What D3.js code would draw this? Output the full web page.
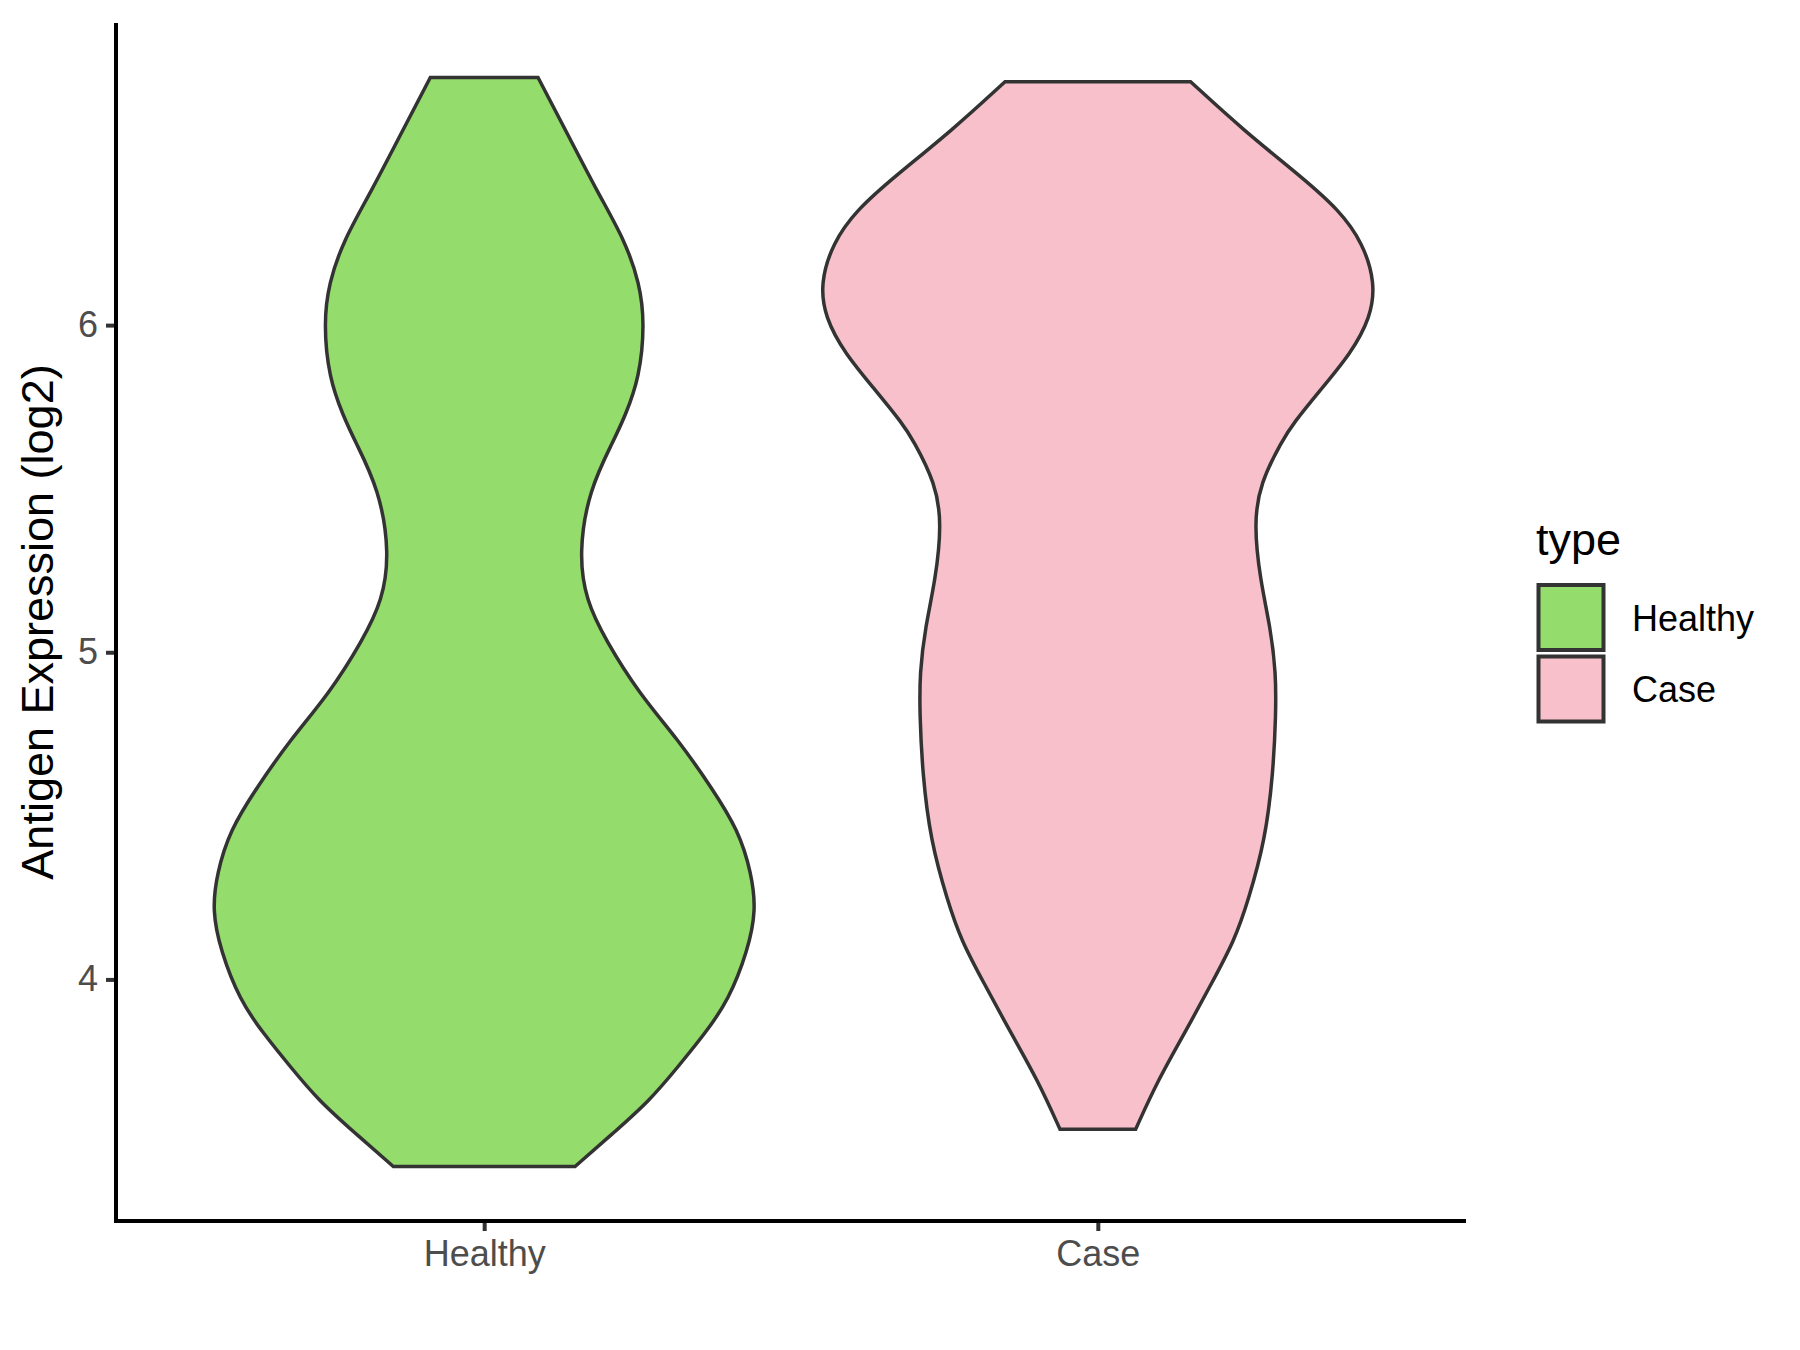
<!DOCTYPE html>
<html>
<head>
<meta charset="utf-8">
<script src="https://cdn.jsdelivr.net/npm/d3@7"></script>
<style>
  html, body { margin: 0; padding: 0; background: #ffffff; }
  svg { display: block; font-family: "Liberation Sans", Arial, Helvetica, sans-serif; }
</style>
</head>
<body>
<svg id="chart" width="1800" height="1350"></svg>
<script>
// ---- data ----
const categories = ["Healthy", "Case"];
const fillColors = ["#94DC6B", "#F7C0CB"];
const yTicks = [4, 5, 6];

// Healthy violin outline: expression values (log2) and relative density (half width, 1 = widest)
const healthyValues = [6.757, 6.587, 6.404, 6.260, 6.128, 6.006, 5.841, 5.719, 5.648, 5.495, 5.303, 5.159, 5.037,
                       4.875, 4.731, 4.587, 4.456, 4.324, 4.211, 4.089, 3.936, 3.835, 3.731, 3.630, 3.529, 3.428];
const healthyDensity = [0.195, 0.300, 0.412, 0.509, 0.563, 0.581, 0.563, 0.509, 0.469, 0.379, 0.343, 0.368, 0.440,
                        0.560, 0.704, 0.823, 0.921, 0.968, 0.985, 0.955, 0.885, 0.800, 0.700, 0.600, 0.466, 0.329];

// Case violin outline
const caseValues = [6.744, 6.596, 6.454, 6.352, 6.251, 6.128, 6.024, 5.914, 5.801, 5.700, 5.648, 5.517, 5.394,
                    5.220, 5.077, 4.936, 4.813, 4.630, 4.425, 4.242, 4.119, 3.988, 3.835, 3.691, 3.542];
const caseDensity = [0.336, 0.527, 0.736, 0.874, 0.960, 1.005, 0.988, 0.917, 0.805, 0.708, 0.668, 0.588, 0.565,
                     0.588, 0.625, 0.645, 0.645, 0.635, 0.606, 0.545, 0.495, 0.412, 0.314, 0.217, 0.137];

const yTitle = "Antigen Expression (log2)";
const legendTitle = "type";

// ---- layout ----
const panel = { left: 116, right: 1466, top: 23, bottom: 1221 };
const svg = d3.select("#chart");

const groups = [
  { name: categories[0], values: healthyValues, density: healthyDensity, fill: fillColors[0] },
  { name: categories[1], values: caseValues, density: caseDensity, fill: fillColors[1] }
];

const allVals = healthyValues.concat(caseValues);
const vmin = d3.min(allVals), vmax = d3.max(allVals);
const pad = (vmax - vmin) * 0.05;

const y = d3.scaleLinear().domain([vmin - pad, vmax + pad]).range([panel.bottom, panel.top]);
const x = d3.scalePoint().domain(categories).range([panel.left, panel.right]).padding(0.6);
const w = d3.scaleLinear().domain([0, 1]).range([0, x.step() * 0.45]);

// ---- violins ----
groups.forEach(g => {
  const pts = g.values.map((v, i) => ({ v: v, d: g.density[i] }));
  const cx = x(g.name);
  const area = d3.area()
    .y(d => y(d.v))
    .x0(d => cx - w(d.d))
    .x1(d => cx + w(d.d))
    .curve(d3.curveBasis);
  svg.append("path")
    .datum(pts)
    .attr("d", area)
    .attr("fill", g.fill)
    .attr("stroke", "#333333")
    .attr("stroke-width", 3.5)
    .attr("stroke-linejoin", "miter");
});

// ---- axes ----
const yAxis = d3.axisLeft(y).tickValues(yTicks).tickSize(10).tickPadding(8).tickFormat(d3.format("d"));
const gy = svg.append("g").attr("transform", `translate(${panel.left},0)`).call(yAxis);
gy.select(".domain").remove();
gy.selectAll(".tick line").attr("stroke", "#333333").attr("stroke-width", 4);
gy.selectAll(".tick text").attr("fill", "#4D4D4D").attr("font-size", 36)
  .attr("font-family", "'Liberation Sans', Arial, sans-serif");

const xAxis = d3.axisBottom(x).tickSize(10).tickPadding(9);
const gx = svg.append("g").attr("transform", `translate(0,${panel.bottom})`).call(xAxis);
gx.select(".domain").remove();
gx.selectAll(".tick line").attr("stroke", "#333333").attr("stroke-width", 4);
gx.selectAll(".tick text").attr("fill", "#4D4D4D").attr("font-size", 36)
  .attr("font-family", "'Liberation Sans', Arial, sans-serif");

// axis lines
svg.append("line").attr("x1", panel.left).attr("x2", panel.left)
  .attr("y1", panel.top).attr("y2", panel.bottom + 2)
  .attr("stroke", "#000").attr("stroke-width", 4);
svg.append("line").attr("x1", panel.left - 2).attr("x2", panel.right)
  .attr("y1", panel.bottom).attr("y2", panel.bottom)
  .attr("stroke", "#000").attr("stroke-width", 4);

// y axis title
svg.append("text")
  .attr("transform", `translate(53,${(panel.top + panel.bottom) / 2}) rotate(-90)`)
  .attr("text-anchor", "middle")
  .attr("font-size", 45)
  .attr("fill", "#000")
  .text(yTitle);

// ---- legend ----
const legend = svg.append("g");
legend.append("text").attr("x", 1536).attr("y", 555).attr("font-size", 45).attr("fill", "#000").text(legendTitle);
categories.forEach((c, i) => {
  const top = 585 + i * 71.5;
  legend.append("rect")
    .attr("x", 1538.5).attr("y", top).attr("width", 65).attr("height", 65)
    .attr("fill", fillColors[i]).attr("stroke", "#333333").attr("stroke-width", 4);
  legend.append("text")
    .attr("x", 1632).attr("y", top + 32.5 + 13)
    .attr("font-size", 36).attr("fill", "#000").text(c);
});
</script>
</body>
</html>
